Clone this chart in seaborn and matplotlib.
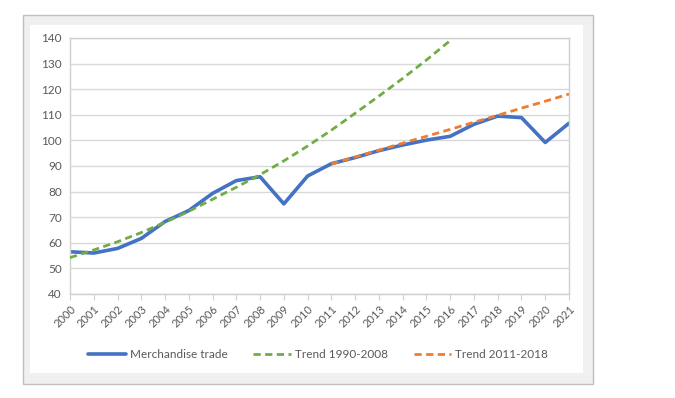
import numpy as np
import pandas as pd
import seaborn as sns
import matplotlib
matplotlib.use("Agg")
import matplotlib.pyplot as plt
from matplotlib.patches import Rectangle

years = list(range(2000, 2022))
merchandise = [56.5, 56.0, 57.8, 61.7, 68.3, 72.6, 79.3, 84.3, 85.8, 75.2, 86.1,
               90.9, 93.3, 96.0, 98.2, 100.1, 101.6, 106.3, 109.5, 108.9, 99.2, 106.7]
trend_years_1 = list(range(2000, 2017))
trend_1990_2008 = [54.2, 57.2, 60.4, 64.0, 68.0, 72.3, 77.0, 81.7, 86.6, 92.0, 97.8,
                   104.0, 110.6, 117.3, 124.2, 131.4, 139.0]
trend_years_2 = list(range(2011, 2022))
trend_2011_2018 = [90.8, 93.5, 96.2, 98.9, 101.6, 104.3, 107.1, 109.8, 112.6, 115.3, 118.1]

labels = ["Merchandise trade", "Trend 1990-2008", "Trend 2011-2018"]
colors = ["#4472C4", "#70AD47", "#ED7D31"]

sns.set_style("white")
plt.rcParams['font.family'] = ['Lato', 'DejaVu Sans']

W, H = 675, 398
fig = plt.figure(figsize=(W / 100, H / 100), dpi=100)
fig.patch.set_facecolor("white")

def px_rect(x0, y0, x1, y1, **kw):
    r = Rectangle((x0 / W, 1 - y1 / H), (x1 - x0) / W, (y1 - y0) / H,
                  transform=fig.transFigure, zorder=-10, **kw)
    fig.patches.append(r)

px_rect(23, 15, 593, 384, facecolor="#f0f0f0", edgecolor="#bfbfbf", linewidth=1.0)
px_rect(30, 25, 583, 373, facecolor="white", edgecolor="none")

ax = fig.add_axes([70 / W, 1 - 294 / H, (569 - 70) / W, (294 - 38) / H])
ax.set_facecolor("white")

df1 = pd.DataFrame({"year": years, "value": merchandise})
df2 = pd.DataFrame({"year": trend_years_1, "value": trend_1990_2008})
df3 = pd.DataFrame({"year": trend_years_2, "value": trend_2011_2018})

sns.lineplot(data=df2, x="year", y="value", ax=ax, color=colors[1], lw=2.0,
             label=labels[1], zorder=3).lines[-1].set_dashes([2.6, 1.6])
sns.lineplot(data=df3, x="year", y="value", ax=ax, color=colors[2], lw=2.0,
             label=labels[2], zorder=4).lines[-1].set_dashes([2.6, 1.6])
sns.lineplot(data=df1, x="year", y="value", ax=ax, color=colors[0], lw=2.6,
             label=labels[0], zorder=2)

ax.set_xlim(2000, 2021)
ax.set_ylim(40, 140)
ax.set_yticks(range(40, 141, 10))
ax.set_xticks(years)
ax.set_xticklabels([str(y) for y in years], rotation=45, ha="right", va="top",
                   rotation_mode="anchor", fontsize=8, color="#595959")
ax.tick_params(axis="y", labelsize=8.5, labelcolor="#595959", length=0, pad=6)
ax.tick_params(axis="x", length=4, width=0.8, color="#d0d0d0", direction="out", pad=3,
               bottom=True)
ax.grid(axis="y", color="#d9d9d9", lw=1.0)
ax.set_axisbelow(True)
for s in ["left", "bottom", "right", "top"]:
    ax.spines[s].set_color("#d0d0d0")
    ax.spines[s].set_linewidth(1.0)
ax.set_xlabel("")
ax.set_ylabel("")

h, l = ax.get_legend_handles_labels()
order = [l.index(x) for x in labels]
ax.legend([h[i] for i in order], [l[i] for i in order], loc="center",
          bbox_to_anchor=(318 / W, 1 - 355 / H), bbox_transform=fig.transFigure,
          ncol=3, frameon=False, fontsize=8.5, handlelength=3.2, columnspacing=2.2,
          handletextpad=0.3, labelcolor="#595959")

fig.savefig("out.png", dpi=100, facecolor="white")
